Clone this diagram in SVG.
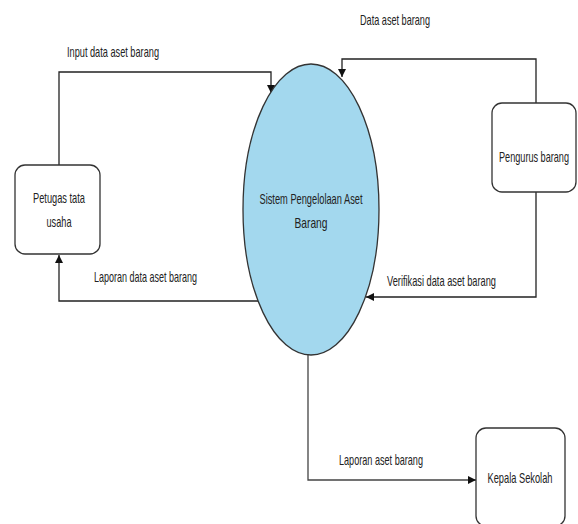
<svg xmlns="http://www.w3.org/2000/svg" width="578" height="524" viewBox="0 0 578 524">
<defs>
<marker id="arr" viewBox="0 0 10 10" refX="10" refY="5" markerWidth="8" markerHeight="8" markerUnits="userSpaceOnUse" orient="auto">
<path d="M0,0 L10,5 L0,10 Z" fill="#111"/>
</marker>
</defs>
<style>
.box{fill:#fff;stroke:#333;stroke-width:1.3}
.t{font-family:"Liberation Sans",Arial,sans-serif;font-size:15px;fill:#222;text-anchor:middle}
.l{font-family:"Liberation Sans",Arial,sans-serif;font-size:15px;fill:#222}
.c{fill:none;stroke:#222;stroke-width:1.3}
</style>
<rect width="578" height="524" fill="#fff"/>
<g id="connectors">
<polyline class="c" points="59,165 59,72 271,72 271,93" marker-end="url(#arr)"/>
<polyline class="c" points="536,103 536,59 342,59 342,77" marker-end="url(#arr)"/>
<polyline class="c" points="258,301 59,301 59,255" marker-end="url(#arr)"/>
<polyline class="c" points="536,192 536,297 366,297" marker-end="url(#arr)"/>
<polyline class="c" points="308,355 308,480 476,480" marker-end="url(#arr)" style="stroke:#444"/>
<text class="l" x="360" y="25" textLength="70" lengthAdjust="spacingAndGlyphs">Data aset barang</text>
<text class="l" x="67" y="57" textLength="92" lengthAdjust="spacingAndGlyphs">Input data aset barang</text>
<text class="l" x="94" y="282" textLength="103" lengthAdjust="spacingAndGlyphs">Laporan data aset barang</text>
<text class="l" x="387" y="286" textLength="109" lengthAdjust="spacingAndGlyphs">Verifikasi data aset barang</text>
<text class="l" x="339" y="465" textLength="84" lengthAdjust="spacingAndGlyphs">Laporan aset barang</text>
</g>
<g id="sistem">
<ellipse cx="311" cy="209.5" rx="68" ry="145.5" fill="#a3d8ee" stroke="#333" stroke-width="1.3"/>
<text class="t" x="311" y="204" textLength="103" lengthAdjust="spacingAndGlyphs">Sistem Pengelolaan Aset</text>
<text class="t" x="311" y="228" textLength="33" lengthAdjust="spacingAndGlyphs">Barang</text>
</g>
<g id="petugas">
<rect class="box" x="15" y="165" width="85" height="89" rx="10"/>
<text class="t" x="59" y="203" textLength="52" lengthAdjust="spacingAndGlyphs">Petugas tata</text>
<text class="t" x="59" y="227" textLength="25" lengthAdjust="spacingAndGlyphs">usaha</text>
</g>
<g id="pengurus">
<rect class="box" x="492" y="103" width="84" height="89" rx="10"/>
<text class="t" x="534" y="162" textLength="70" lengthAdjust="spacingAndGlyphs">Pengurus barang</text>
</g>
<g id="kepala">
<rect class="box" x="476" y="428" width="89" height="98" rx="10"/>
<text class="t" x="520" y="483" textLength="65" lengthAdjust="spacingAndGlyphs">Kepala Sekolah</text>
</g>
</svg>
